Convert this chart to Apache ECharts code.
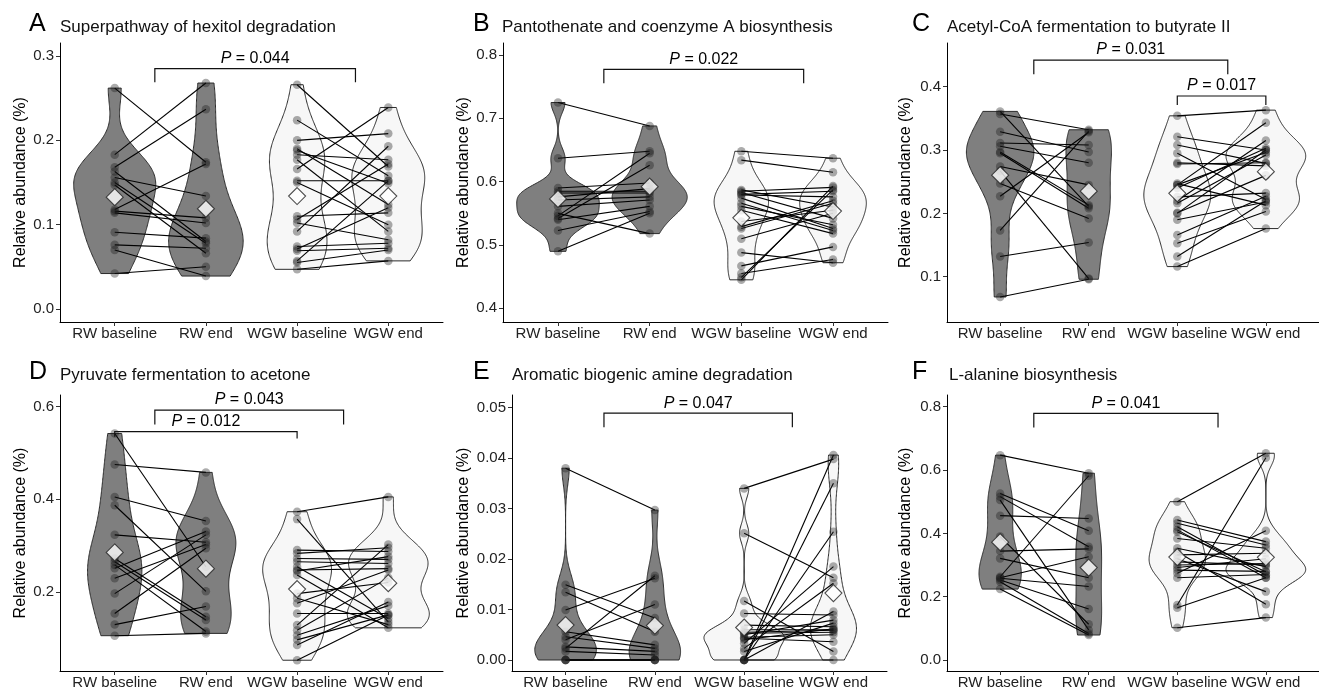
<!DOCTYPE html>
<html>
<head>
<meta charset="utf-8">
<script src="https://cdn.jsdelivr.net/npm/echarts@6/dist/echarts.min.js"></script>
<style>
  html, body { margin: 0; background: #fff; }
  #chart { width: 1319px; height: 690px; }
</style>
</head>
<body>
<div id="chart"></div>
<script>
const groups = ['RW baseline', 'RW end', 'WGW baseline', 'WGW end']

// values per subject, same index = same subject at baseline and end
const hexitolRwBase = [0.262, 0.183, 0.168, 0.163, 0.156, 0.150, 0.147, 0.118, 0.116, 0.114, 0.091, 0.076, 0.070, 0.042]
const hexitolRwEnd = [0.174, 0.268, 0.237, 0.080, 0.134, 0.078, 0.066, 0.172, 0.108, 0.102, 0.084, 0.072, 0.039, 0.050]
const hexitolWgwBase = [0.266, 0.224, 0.200, 0.190, 0.188, 0.183, 0.177, 0.166, 0.152, 0.150, 0.110, 0.106, 0.102, 0.092, 0.074, 0.071, 0.069, 0.057, 0.055, 0.047]
const hexitolWgwEnd = [0.169, 0.158, 0.208, 0.124, 0.149, 0.177, 0.092, 0.239, 0.152, 0.100, 0.114, 0.172, 0.082, 0.193, 0.078, 0.120, 0.072, 0.152, 0.070, 0.057]

const pantoRwBase = [0.725, 0.637, 0.590, 0.582, 0.576, 0.571, 0.561, 0.550, 0.546, 0.542, 0.540, 0.523, 0.585, 0.490]
const pantoRwEnd = [0.688, 0.648, 0.598, 0.582, 0.589, 0.576, 0.571, 0.518, 0.645, 0.626, 0.561, 0.553, 0.585, 0.550]
const pantoWgwBase = [0.648, 0.634, 0.587, 0.585, 0.583, 0.580, 0.579, 0.574, 0.566, 0.561, 0.555, 0.537, 0.529, 0.526, 0.510, 0.488, 0.467, 0.455, 0.449, 0.445]
const pantoWgwEnd = [0.637, 0.615, 0.560, 0.591, 0.542, 0.585, 0.576, 0.526, 0.523, 0.532, 0.518, 0.555, 0.570, 0.566, 0.550, 0.472, 0.497, 0.477, 0.587, 0.593]

const butyRwBase = [0.361, 0.357, 0.329, 0.311, 0.306, 0.297, 0.295, 0.274, 0.267, 0.247, 0.227, 0.173, 0.132, 0.068]
const butyRwEnd = [0.211, 0.332, 0.297, 0.308, 0.280, 0.213, 0.208, 0.245, 0.097, 0.192, 0.328, 0.330, 0.154, 0.096]
const butyWgwBase = [0.354, 0.321, 0.308, 0.295, 0.280, 0.278, 0.247, 0.245, 0.245, 0.240, 0.226, 0.220, 0.216, 0.201, 0.200, 0.190, 0.166, 0.153, 0.132, 0.116]
const butyWgwEnd = [0.363, 0.300, 0.279, 0.222, 0.275, 0.280, 0.213, 0.343, 0.296, 0.303, 0.232, 0.315, 0.292, 0.260, 0.300, 0.218, 0.227, 0.203, 0.220, 0.176]

const acetRwBase = [0.542, 0.475, 0.405, 0.387, 0.323, 0.272, 0.265, 0.258, 0.251, 0.229, 0.196, 0.153, 0.129, 0.105]
const acetRwEnd = [0.254, 0.458, 0.353, 0.201, 0.307, 0.146, 0.139, 0.114, 0.330, 0.302, 0.323, 0.294, 0.168, 0.110]
const acetWgwBase = [0.373, 0.357, 0.290, 0.283, 0.272, 0.265, 0.254, 0.247, 0.245, 0.236, 0.196, 0.186, 0.175, 0.153, 0.128, 0.117, 0.106, 0.096, 0.085, 0.052]
const acetWgwEnd = [0.405, 0.135, 0.287, 0.295, 0.270, 0.261, 0.142, 0.250, 0.276, 0.122, 0.220, 0.129, 0.247, 0.153, 0.302, 0.230, 0.170, 0.150, 0.178, 0.150]

const amineRwBase = [0.0380, 0.0149, 0.0134, 0.0099, 0.0056, 0.0046, 0.0040, 0.0026, 0.0023, 0.0017, 0, 0, 0, 0]
const amineRwEnd = [0.0297, 0.0083, 0.0056, 0.0162, 0.0030, 0.0023, 0.0110, 0.0017, 0.0167, 0.0010, 0, 0, 0, 0]
const amineWgwBase = [0.0340, 0.0251, 0.0117, 0.0092, 0.0069, 0.0060, 0.0055, 0.0053, 0.0050, 0.0045, 0.0043, 0.0040, 0.0033, 0.0023, 0.0017, 0, 0, 0, 0, 0]
const amineWgwEnd = [0.0398, 0.0163, 0.0017, 0.0089, 0.0066, 0.0060, 0.0059, 0.0055, 0.0079, 0.0050, 0.0036, 0.0062, 0.0185, 0.0152, 0.0073, 0.0406, 0.0350, 0.0254, 0.0096, 0]

const alaRwBase = [0.647, 0.526, 0.516, 0.505, 0.456, 0.390, 0.344, 0.321, 0.263, 0.260, 0.258, 0.253, 0.247, 0.224]
const alaRwEnd = [0.590, 0.408, 0.358, 0.095, 0.447, 0.113, 0.351, 0.260, 0.582, 0.326, 0.232, 0.161, 0.084, 0.079]
const alaWgwBase = [0.500, 0.442, 0.432, 0.421, 0.411, 0.405, 0.384, 0.353, 0.342, 0.332, 0.320, 0.310, 0.300, 0.292, 0.284, 0.274, 0.260, 0.174, 0.165, 0.102]
const alaWgwEnd = [0.653, 0.374, 0.363, 0.268, 0.260, 0.279, 0.353, 0.295, 0.176, 0.337, 0.216, 0.300, 0.305, 0.320, 0.280, 0.408, 0.270, 0.639, 0.260, 0.134]

// p values of the comparisons
const hexitolP = ['0.044']
const pantoP = ['0.022']
const butyP = ['0.031', '0.017']
const acetP = ['0.043', '0.012']
const amineP = ['0.047']
const alaP = ['0.041']

const FONT = '"Liberation Sans", Arial, Helvetica, sans-serif'

const panels = [
  { letter: 'A', title: 'Superpathway of hexitol degradation', data: [hexitolRwBase, hexitolRwEnd, hexitolWgwBase, hexitolWgwEnd],
    grid: { left: 60, top: 43, width: 383, height: 279 }, yMin: -0.0155, yMax: 0.3155, ticks: [0, 0.1, 0.2, 0.3], dec: 1, nameGap: 31,
    letterX: 29, titleX: 60, headY: 24,
    brackets: [{ x: [1.44, 3.64], y: 0.285, tip: [0.269, 0.269], p: hexitolP[0] }] },
  { letter: 'B', title: 'Pantothenate and coenzyme A biosynthesis', data: [pantoRwBase, pantoRwEnd, pantoWgwBase, pantoWgwEnd],
    grid: { left: 503, top: 43, width: 385, height: 279 }, yMin: 0.3784, yMax: 0.819, ticks: [0.4, 0.5, 0.6, 0.7, 0.8], dec: 1, nameGap: 31,
    letterX: 473, titleX: 502, headY: 24,
    brackets: [{ x: [1.5, 3.68], y: 0.7774, tip: [0.7553, 0.7553], p: pantoP[0] }] },
  { letter: 'C', title: 'Acetyl-CoA fermentation to butyrate II', data: [butyRwBase, butyRwEnd, butyWgwBase, butyWgwEnd],
    grid: { left: 947, top: 43, width: 384, height: 279 }, yMin: 0.0285, yMax: 0.469, ticks: [0.1, 0.2, 0.3, 0.4], dec: 1, nameGap: 33,
    letterX: 912, titleX: 947, headY: 24,
    brackets: [{ x: [1.38, 3.57], y: 0.4421, tip: [0.4195, 0.4195], p: butyP[0] },
               { x: [3, 4], y: 0.3853, tip: [0.3711, 0.3711], p: butyP[1] }] },
  { letter: 'D', title: 'Pyruvate fermentation to acetone', data: [acetRwBase, acetRwEnd, acetWgwBase, acetWgwEnd],
    grid: { left: 60, top: 395, width: 383, height: 276 }, yMin: 0.0287, yMax: 0.6253, ticks: [0.2, 0.4, 0.6], dec: 1, nameGap: 31,
    letterX: 29, titleX: 60, headY: 372,
    brackets: [{ x: [1.44, 3.51], y: 0.5928, tip: [0.5618, 0.5618], p: acetP[0] },
               { x: [1, 3], y: 0.546, tip: [0.535, 0.5315], p: acetP[1] }] },
  { letter: 'E', title: 'Aromatic biogenic amine degradation', data: [amineRwBase, amineRwEnd, amineWgwBase, amineWgwEnd],
    grid: { left: 512, top: 395, width: 375, height: 276 }, yMin: -0.00218, yMax: 0.0525, ticks: [0, 0.01, 0.02, 0.03, 0.04, 0.05], dec: 2, nameGap: 40,
    letterX: 473, titleX: 512, headY: 372,
    brackets: [{ x: [1.43, 3.54], y: 0.0489, tip: [0.0461, 0.0461], p: amineP[0] }] },
  { letter: 'F', title: 'L-alanine biosynthesis', data: [alaRwBase, alaRwEnd, alaWgwBase, alaWgwEnd],
    grid: { left: 947, top: 395, width: 384, height: 276 }, yMin: -0.0347, yMax: 0.837, ticks: [0, 0.2, 0.4, 0.6, 0.8], dec: 1, nameGap: 33,
    letterX: 912, titleX: 949, headY: 372,
    brackets: [{ x: [1.38, 3.46], y: 0.7789, tip: [0.7347, 0.7347], p: alaP[0] }] }
]

// gaussian kernel density like R density() with bw.nrd0, trimmed to data range
function quantile(s, p) {
  const h = (s.length - 1) * p, lo = Math.floor(h)
  return s[lo] + (h - lo) * (s[Math.min(lo + 1, s.length - 1)] - s[lo])
}
function bwNrd0(v) {
  const n = v.length
  const mean = v.reduce((a, b) => a + b, 0) / n
  const sd = Math.sqrt(v.reduce((a, b) => a + (b - mean) ** 2, 0) / (n - 1))
  const s = v.slice().sort((a, b) => a - b)
  let lo = Math.min(sd, (quantile(s, 0.75) - quantile(s, 0.25)) / 1.34)
  if (!lo) lo = sd || Math.abs(s[0]) || 1
  return 0.9 * lo * Math.pow(n, -0.2)
}
function density(v) {
  const bw = bwNrd0(v), min = Math.min(...v), max = Math.max(...v), steps = 160
  const pts = []
  for (let i = 0; i <= steps; i++) {
    const y = min + (max - min) * i / steps
    let d = 0
    v.forEach(x => { const z = (y - x) / bw; d += Math.exp(-z * z / 2) })
    pts.push([y, d / (v.length * bw * Math.sqrt(2 * Math.PI))])
  }
  return pts
}

const grids = [], xAxes = [], yAxes = [], series = [], graphics = []

panels.forEach((p, pi) => {
  grids.push(p.grid)
  xAxes.push({
    type: 'value', gridIndex: pi, min: 0.4, max: 4.6,
    axisLine: { show: true, onZero: false, lineStyle: { color: '#000', width: 1 } },
    axisTick: { show: true, customValues: [1, 2, 3, 4], length: 4, lineStyle: { color: '#333' } },
    axisLabel: { customValues: [1, 2, 3, 4], formatter: v => groups[Math.round(v) - 1], fontSize: 15, fontFamily: FONT, color: '#222', margin: 4 },
    splitLine: { show: false }
  })
  yAxes.push({
    type: 'value', gridIndex: pi, min: p.yMin, max: p.yMax,
    axisLine: { show: true, onZero: false, lineStyle: { color: '#000', width: 1 } },
    axisTick: { show: true, customValues: p.ticks, length: 4, lineStyle: { color: '#333' } },
    axisLabel: { customValues: p.ticks, formatter: v => v.toFixed(p.dec), fontSize: 15, fontFamily: FONT, color: '#222', margin: 6 },
    splitLine: { show: false },
    name: 'Relative abundance (%)', nameLocation: 'middle', nameGap: p.nameGap,
    nameTextStyle: { fontSize: 16, fontFamily: FONT, color: '#000' }
  })

  // violins, scale = "area": the widest density of the panel gets half width 0.45
  const profiles = p.data.map(density)
  const maxD = Math.max(...profiles.map(pr => Math.max(...pr.map(d => d[1]))))
  series.push({
    type: 'custom', xAxisIndex: pi, yAxisIndex: pi, silent: true,
    data: p.data.map((v, g) => [g + 1, Math.min(...v)]),
    renderItem(params, api) {
      const g = params.dataIndex
      const left = [], right = []
      profiles[g].forEach(([y, d]) => {
        const w = 0.45 * d / maxD
        left.push(api.coord([g + 1 - w, y]))
        right.push(api.coord([g + 1 + w, y]))
      })
      return {
        type: 'polygon', shape: { points: left.concat(right.reverse()) },
        style: { fill: g < 2 ? '#7f7f7f' : '#f7f7f7', stroke: '#2b2b2b', lineWidth: 1 }
      }
    }
  })

  // subject points
  series.push({
    type: 'scatter', xAxisIndex: pi, yAxisIndex: pi, silent: true, symbolSize: 8.5,
    itemStyle: { color: 'rgba(25,25,25,0.45)' },
    data: p.data.flatMap((v, g) => v.map(y => [g + 1, y]))
  })

  // paired lines baseline -> end
  const pairs = []
  p.data[0].forEach((v, i) => pairs.push([1, v, 2, p.data[1][i]]))
  p.data[2].forEach((v, i) => pairs.push([3, v, 4, p.data[3][i]]))
  series.push({
    type: 'custom', xAxisIndex: pi, yAxisIndex: pi, silent: true,
    data: pairs,
    renderItem(params, api) {
      const a = api.coord([api.value(0), api.value(1)])
      const b = api.coord([api.value(2), api.value(3)])
      return { type: 'line', shape: { x1: a[0], y1: a[1], x2: b[0], y2: b[1] }, style: { stroke: '#000', lineWidth: 1.1 } }
    }
  })

  // group means
  series.push({
    type: 'scatter', xAxisIndex: pi, yAxisIndex: pi, silent: true, symbol: 'diamond', symbolSize: 17,
    itemStyle: { color: '#fff', borderColor: '#222', borderWidth: 1.1 },
    data: p.data.map((v, g) => [g + 1, v.reduce((a, b) => a + b, 0) / v.length])
  })

  // significance brackets
  series.push({
    type: 'custom', xAxisIndex: pi, yAxisIndex: pi, silent: true,
    data: p.brackets.map(b => [b.x[0], b.y]),
    renderItem(params, api) {
      const b = p.brackets[params.dataIndex]
      const p1 = api.coord([b.x[0], b.tip[0]]), p2 = api.coord([b.x[0], b.y])
      const p3 = api.coord([b.x[1], b.y]), p4 = api.coord([b.x[1], b.tip[1]])
      return {
        type: 'group', children: [
          { type: 'polyline', shape: { points: [p1, p2, p3, p4] }, style: { stroke: '#111', lineWidth: 1.2, fill: null } },
          { type: 'text', x: (p2[0] + p3[0]) / 2, y: p2[1] - 2,
            style: { text: '{i|P} = ' + b.p, fontSize: 16, fontFamily: FONT, fill: '#000', align: 'center', verticalAlign: 'bottom',
                     rich: { i: { fontStyle: 'italic', fontSize: 16, fontFamily: FONT, fill: '#000' } } } }
        ]
      }
    }
  })

  graphics.push({ type: 'text', x: p.letterX, y: p.headY, style: { text: p.letter, fontSize: 25, fontFamily: FONT, fill: '#000', verticalAlign: 'middle' } })
  graphics.push({ type: 'text', x: p.titleX, y: p.headY + 3, style: { text: p.title, fontSize: 17, fontFamily: FONT, fill: '#111', verticalAlign: 'middle' } })
})

const chart = echarts.init(document.getElementById('chart'))
chart.setOption({
  animation: false,
  backgroundColor: '#fff',
  grid: grids,
  xAxis: xAxes,
  yAxis: yAxes,
  series: series,
  graphic: graphics
})
</script>
</body>
</html>
